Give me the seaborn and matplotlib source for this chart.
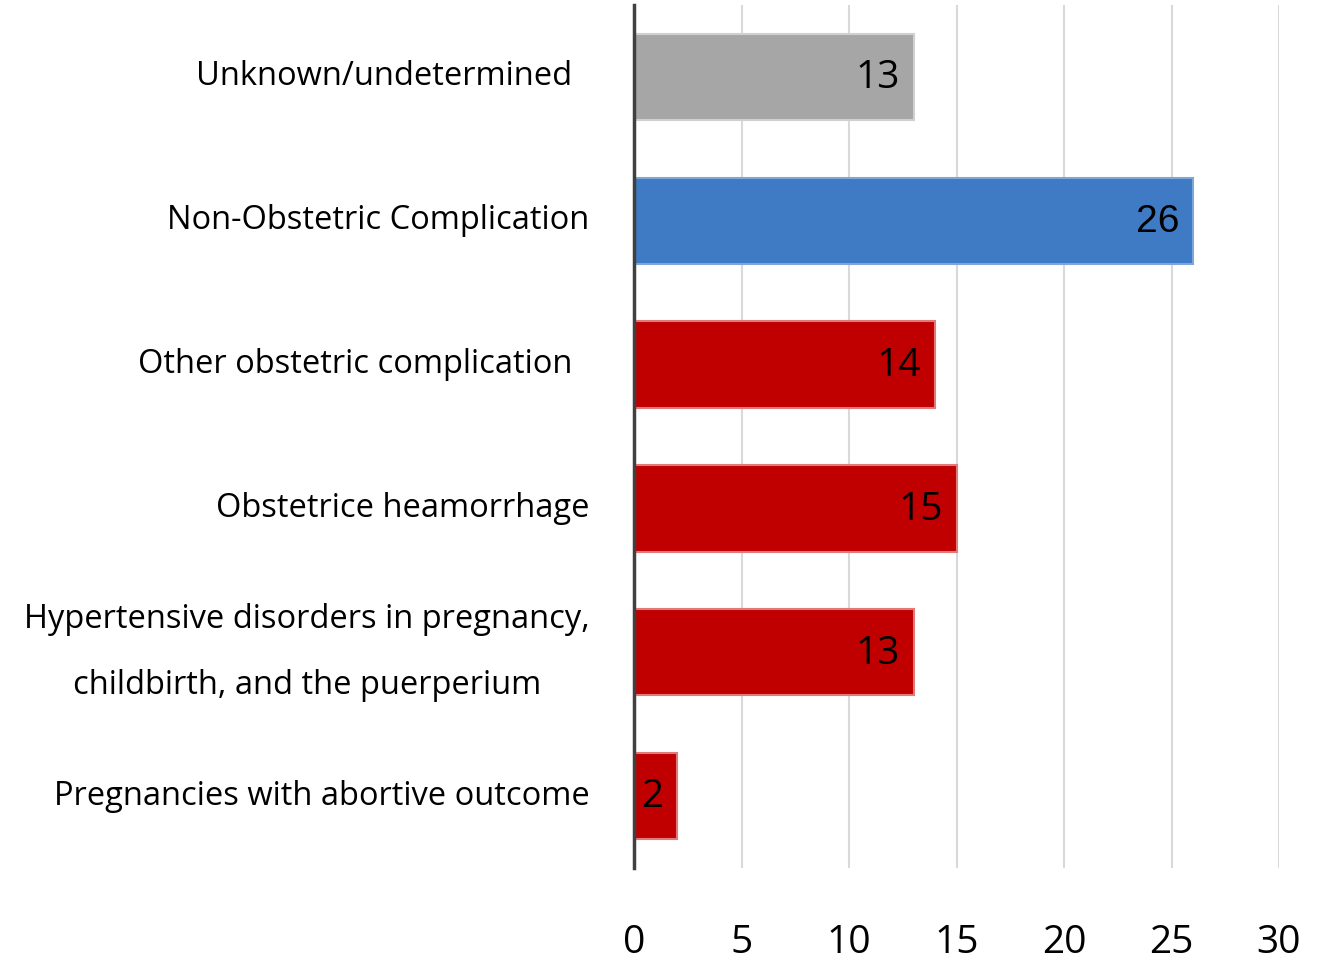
import matplotlib
matplotlib.use("Agg")
import matplotlib.pyplot as plt
import matplotlib.transforms as mtransforms
import seaborn as sns
import pandas as pd

categories = [
    "Unknown/undetermined  ",
    "Non-Obstetric Complication",
    "Other obstetric complication  ",
    "Obstetrice heamorrhage",
    "Hypertensive disorders in pregnancy,\nchildbirth, and the puerperium",
    "Pregnancies with abortive outcome",
]
values = [13, 26, 14, 15, 13, 2]
bar_colors = ["#A6A6A6", "#3E7BC4", "#C00000", "#C00000", "#C00000", "#C00000"]
edge_colors = ["#D0D0D0", "#7FA6D9", "#E07A7A", "#E07A7A", "#E07A7A", "#E07A7A"]
x_ticks = [0, 5, 10, 15, 20, 25, 30]

sns.set_theme(style="white")
plt.rcParams['font.family'] = ['Open Sans', 'DejaVu Sans']

df = pd.DataFrame({"cat": categories, "val": values})

fig = plt.figure(figsize=(13.3, 9.66), dpi=100)
ax = fig.add_axes([634/1330, 1-868/966, (1279-634)/1330, (868-5)/966])

sns.barplot(data=df, y="cat", x="val", hue="cat", palette=bar_colors,
            saturation=1, legend=False, orient="h", width=0.6, ax=ax, zorder=3)
for patch, ec in zip(ax.patches, edge_colors):
    patch.set_edgecolor(ec)
    patch.set_linewidth(1.5)

ax.set_xlim(0, 30)
ax.set_xticks(x_ticks)
ax.set_xticklabels([str(t) for t in x_ticks], fontsize=28, color="black")
ax.tick_params(axis='x', length=0, pad=40)
ax.tick_params(axis='y', length=0, pad=32)
for lab in ax.get_yticklabels():
    lab.set_fontsize(23.5)
    lab.set_color("black")
    lab.set_multialignment('center')
    lab.set_linespacing(2.3)
    if "\n" in lab.get_text():
        lab.set_transform(lab.get_transform() +
                          mtransforms.ScaledTranslation(0, 0.2, fig.dpi_scale_trans))
    else:
        lab.set_transform(lab.get_transform() +
                          mtransforms.ScaledTranslation(0, 0.04, fig.dpi_scale_trans))

ax.xaxis.grid(True, color="#D9D9D9", linewidth=1.5, zorder=0)
ax.yaxis.grid(False)
ax.set_axisbelow(True)
ax.set_xlabel("")
ax.set_ylabel("")
for s in ["top", "right", "bottom"]:
    ax.spines[s].set_visible(False)
ax.spines["left"].set_color("#404040")
ax.spines["left"].set_linewidth(2.5)
ax.spines["left"].set_zorder(5)

for i, v in enumerate(values):
    fam = ['Liberation Sans'] if v == 26 else ['Open Sans', 'DejaVu Sans']
    ax.annotate(str(v), xy=(v, i), xytext=(-10, -1), textcoords="offset points",
                ha="right", va="center", fontsize=28,
                color="black", family=fam, zorder=6)

fig.savefig("out.png", dpi=100, facecolor="white")
